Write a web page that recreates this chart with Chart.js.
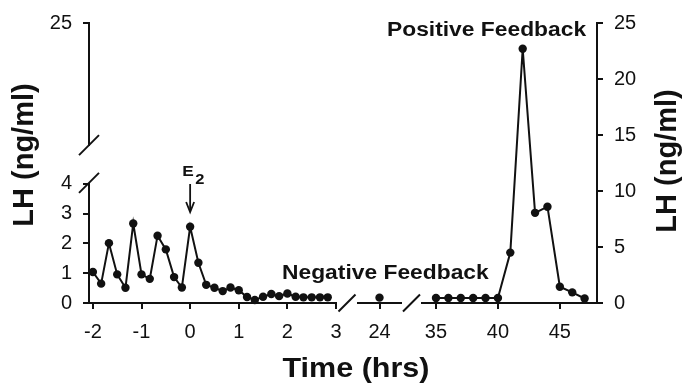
<!DOCTYPE html>
<html><head><meta charset="utf-8">
<script src="https://cdn.jsdelivr.net/npm/chart.js@4/dist/chart.umd.min.js"></script>
<style>html,body{margin:0;padding:0;background:#fff;}#wrap{width:683px;height:385px;position:relative;}</style>
</head><body><div id="wrap"><canvas id="c" width="683" height="385"></canvas></div>
<script>
// ---- data ----
const earlyTimes = [-2,-1.83,-1.67,-1.5,-1.33,-1.17,-1,-0.83,-0.67,-0.5,-0.33,-0.17,0,0.17,0.33,0.5,0.67,0.83,1,1.17,1.33,1.5,1.67,1.83,2,2.17,2.33,2.5,2.67,2.83];
const earlyLH = [1.04,0.65,2.01,0.96,0.51,2.67,0.96,0.81,2.26,1.8,0.87,0.52,2.56,1.35,0.61,0.51,0.4,0.52,0.43,0.2,0.1,0.21,0.3,0.23,0.32,0.21,0.19,0.19,0.19,0.19];
const midTimes = [24];
const midLH = [0.18];
const lateTimes = [35,36,37,38,39,40,41,42,43,44,45,46,47];
const lateLH = [0.45,0.45,0.45,0.45,0.45,0.45,4.5,22.7,8.05,8.6,1.45,0.95,0.4];
const earlyTicks = [-2,-1,0,1,2,3];
const midTicks = [24];
const lateTicks = [35,40,45];
const lowLeftTicks = [0,1,2,3,4];
const highLeftTicks = [25];
const rightTicks = [0,5,10,15,20,25];

const INK = '#111';
Chart.defaults.font.family = "'Liberation Sans', Arial, sans-serif";
Chart.defaults.color = INK;

function fixTicks(vals){ return function(scale){ scale.ticks = vals.map(v => ({value: v})); }; }
function pts(xs, ys){ return xs.map((x, i) => ({x: x, y: ys[i]})); }

function xSeg(min, max, weight, ticks){
  const on = !!ticks;
  const o = {
    type: 'linear', position: 'bottom', stack: 'xs', stackWeight: weight, min: min, max: max,
    afterFit: s => { s.height = 82; },
    grid: {display: on, drawOnChartArea: false, drawTicks: true, tickLength: 6, color: INK, lineWidth: 2},
    border: {display: on, color: INK, width: 2},
    ticks: {display: on, padding: 11, color: INK, font: {size: 20}, maxRotation: 0, autoSkip: false, callback: v => String(v)}
  };
  if (on) o.afterBuildTicks = fixTicks(ticks);
  return o;
}
function yLeft(min, max, weight, ticks){
  const on = !!ticks;
  const o = {
    type: 'linear', position: 'left', stack: 'yl', stackWeight: weight, min: min, max: max,
    afterFit: s => { s.width = 89; },
    grid: {display: on, drawOnChartArea: false, drawTicks: true, tickLength: 6, color: INK, lineWidth: 2},
    border: {display: on, color: INK, width: 2},
    ticks: {display: on, padding: 11, color: INK, font: {size: 20}, autoSkip: false, callback: v => String(v)}
  };
  if (on) o.afterBuildTicks = fixTicks(ticks);
  return o;
}

const lineStyle = {borderColor: INK, borderWidth: 2, pointRadius: 4.2, pointBackgroundColor: INK, pointBorderWidth: 0, showLine: true, clip: false, tension: 0};

function slash(ctx, cx, cy, hx, hy){
  ctx.beginPath(); ctx.moveTo(cx - hx, cy + hy); ctx.lineTo(cx + hx, cy - hy); ctx.stroke();
}
function txt(ctx, str, x, y, font, sx, align, baseline, rot){
  ctx.save(); ctx.translate(x, y); if (rot) ctx.rotate(rot); ctx.scale(sx, 1);
  ctx.font = font; ctx.textAlign = align; ctx.textBaseline = baseline; ctx.fillStyle = INK;
  ctx.fillText(str, 0, 0); ctx.restore();
}

const deco = {
  id: 'deco',
  afterDraw(chart){
    const ctx = chart.ctx, s = chart.scales;
    ctx.save();
    ctx.strokeStyle = INK; ctx.lineWidth = 2;
    const ax = s.yLow.right;
    slash(ctx, ax, s.yHigh.bottom, 10, 10);
    slash(ctx, ax, s.yLow.top - 1, 10, 10);
    const ay = s.x1.top;
    slash(ctx, (s.xg1.left + s.xg1.right) / 2, ay, 8.5, 8.5);
    slash(ctx, (s.xg2.left + s.xg2.right) / 2, ay, 8.5, 8.5);
    // E2 arrow
    const e0 = s.x1.getPixelForValue(0);
    ctx.lineWidth = 1.8;
    ctx.beginPath(); ctx.moveTo(e0, 184); ctx.lineTo(e0, 211); ctx.stroke();
    ctx.beginPath(); ctx.moveTo(e0 - 4, 202); ctx.lineTo(e0, 212); ctx.lineTo(e0 + 4, 202); ctx.stroke();
    ctx.restore();
    const B = "bold ", F = "px 'Liberation Sans', Arial, sans-serif";
    txt(ctx, 'E', e0 - 8, 176, B + 15 + F, 1.15, 'left', 'alphabetic');
    txt(ctx, '2', e0 + 5, 184, B + 15 + F, 1.1, 'left', 'alphabetic');
    txt(ctx, 'Negative Feedback', 282, 279, B + 19.5 + F, 1.17, 'left', 'alphabetic');
    txt(ctx, 'Positive Feedback', 387, 36, B + 19.5 + F, 1.17, 'left', 'alphabetic');
    txt(ctx, 'Time (hrs)', 356, 377, B + 28 + F, 1.09, 'center', 'alphabetic');
    txt(ctx, 'LH (ng/ml)', 33, 155, B + 29 + F, 1, 'center', 'alphabetic', -Math.PI / 2);
    txt(ctx, 'LH (ng/ml)', 676, 161, B + 29 + F, 1, 'center', 'alphabetic', -Math.PI / 2);
  }
};

new Chart(document.getElementById('c'), {
  type: 'line',
  data: {
    datasets: [
      Object.assign({label: 'early', data: pts(earlyTimes, earlyLH), xAxisID: 'x1', yAxisID: 'yLow'}, lineStyle),
      Object.assign({label: 'mid', data: pts(midTimes, midLH), xAxisID: 'x2', yAxisID: 'yLow'}, lineStyle),
      Object.assign({label: 'late', data: pts(lateTimes, lateLH), xAxisID: 'x3', yAxisID: 'yR'}, lineStyle)
    ]
  },
  options: {
    responsive: false, animation: false, devicePixelRatio: 1,
    layout: {padding: {left: 0, right: 0, top: 21, bottom: 0}},
    plugins: {legend: {display: false}, tooltip: {enabled: false}, title: {display: false}},
    scales: {
      x1: xSeg(-2.08, 3, 247, earlyTicks),
      xg1: xSeg(0, 1, 22, null),
      x2: xSeg(23.5, 24.5, 43, midTicks),
      xg2: xSeg(0, 1, 21, null),
      x3: xSeg(33.87, 48, 175, lateTicks),
      yLow: yLeft(0, 4, 120, lowLeftTicks),
      yGapL: yLeft(0, 1, 39, null),
      yHigh: yLeft(15, 25, 123, highLeftTicks),
      yR: {
        type: 'linear', position: 'right', min: 0, max: 25,
        afterFit: s => { s.width = 86; },
        afterBuildTicks: fixTicks(rightTicks),
        grid: {drawOnChartArea: false, drawTicks: true, tickLength: 6, color: INK, lineWidth: 2},
        border: {color: INK, width: 2},
        ticks: {padding: 11, color: INK, font: {size: 20}, autoSkip: false, callback: v => String(v)}
      }
    }
  },
  plugins: [deco]
});
</script>
</body></html>
